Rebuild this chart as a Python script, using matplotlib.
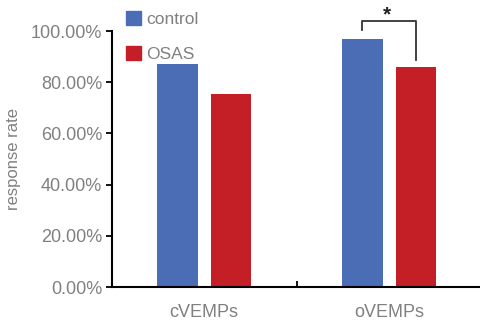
import matplotlib.pyplot as plt
from matplotlib.patches import Patch

plt.rcParams['font.family'] = ['Liberation Sans', 'DejaVu Sans']

groups = ['cVEMPs', 'oVEMPs']
series = ['control', 'OSAS']
control = [87.1, 96.8]
osas = [75.3, 85.9]
colors = ['#4a6db5', '#c41f26']
ytick_vals = [0, 20, 40, 60, 80, 100]
gray = '#808080'

fig = plt.figure(figsize=(4.8, 3.24), dpi=100)
ax = fig.add_axes([0.233, 0.114, 0.77, 0.79])

x = [0, 1]
w = 0.22
off = 0.145
ax.bar([i - off for i in x], control, w, color=colors[0])
ax.bar([i + off for i in x], osas, w, color=colors[1])

ax.set_xlim(-0.5, 1.5)
ax.set_ylim(0, 100)
ax.set_yticks(ytick_vals)
ax.set_yticklabels(['%.2f%%' % v for v in ytick_vals])
ax.set_xticks([0.5])
ax.set_xticklabels([''])
ax.set_xticks(x, minor=True)
ax.set_xticklabels(groups, minor=True)
ax.tick_params(axis='x', which='minor', length=0, pad=12, labelsize=13, labelcolor=gray)
ax.tick_params(axis='x', which='major', length=4, width=1.3, direction='in')
ax.tick_params(axis='y', length=4, width=1.3, labelsize=13, labelcolor=gray, pad=3)
for s in ['top', 'right']:
    ax.spines[s].set_visible(False)
for s in ['left', 'bottom']:
    ax.spines[s].set_linewidth(1.5)
ax.set_ylabel('response rate', fontsize=12, color=gray, labelpad=7)

# significance bracket on oVEMPs
bx0, bx1 = 1 - off, 1 + off
ytop = 104.0
ax.plot([bx0, bx0, bx1, bx1], [control[1] + 3.5, ytop, ytop, osas[1] + 3.0],
        color='#333333', lw=1.3, clip_on=False)
ax.text(0.99, ytop - 1.5, '*', ha='center', va='bottom', fontsize=15,
        fontweight='bold', color='#222222')

handles = [Patch(color=c) for c in colors]
fig.legend(handles, series, loc='upper left', bbox_to_anchor=(0.23, 1.015),
           frameon=False, fontsize=12.5, handlelength=0.85, handleheight=0.85,
           handletextpad=0.3, labelspacing=1.1, labelcolor=gray)

fig.savefig('out.png', dpi=100)
